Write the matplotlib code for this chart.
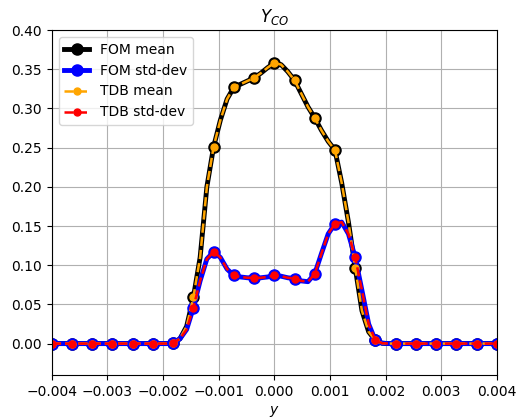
import numpy as np
import matplotlib
matplotlib.use('Agg')
import matplotlib.pyplot as plt

# dense grid: 67 points, a marker drawn on every 3rd point
y = np.linspace(-0.004, 0.004, 67)

fom_mean = [0.0]*18 + [
    0.001, 0.006, 0.022, 0.059, 0.110, 0.200, 0.251, 0.285, 0.312, 0.327,
    0.331, 0.335, 0.339, 0.345, 0.352, 0.358, 0.356, 0.347, 0.336, 0.319,
    0.302, 0.288, 0.272, 0.258, 0.247, 0.205, 0.155, 0.097, 0.042, 0.015,
    0.004, 0.0005] + [0.0]*17

fom_std = [0.0]*18 + [
    0.001, 0.006, 0.018, 0.046, 0.080, 0.108, 0.117, 0.110, 0.095, 0.087,
    0.085, 0.084, 0.084, 0.084, 0.085, 0.087, 0.086, 0.084, 0.083, 0.080,
    0.079, 0.089, 0.115, 0.140, 0.153, 0.155, 0.140, 0.110, 0.068, 0.025,
    0.004, 0.0005] + [0.0]*17

# TDB reconstruction is visually identical to the FOM
tdb_mean = list(fom_mean)
tdb_std = list(fom_std)

fig = plt.figure(figsize=(5.18, 4.18), dpi=100)
ax = fig.add_axes([0.100, 0.103, 0.859, 0.825])

ax.plot(y, fom_mean, 'k-', marker='o', lw=3.5, ms=8, markevery=3, label='FOM mean')
ax.plot(y, fom_std, 'b-', marker='o', lw=3.5, ms=8, markevery=3, label='FOM std-dev')
ax.plot(y, tdb_mean, '--', color='orange', marker='o', lw=1.8, ms=5, markevery=3, label='TDB mean')
ax.plot(y, tdb_std, 'r--', marker='o', lw=1.8, ms=5, markevery=3, label='TDB std-dev')

ax.set_xlim(-0.004, 0.004)
ax.set_ylim(-0.04, 0.40)
ax.set_xticks(np.arange(-0.004, 0.0041, 0.001))
ax.set_xlabel('$y$')
ax.set_title('$Y_{CO}$')
ax.grid(True)
ax.legend(loc='upper left', handlelength=1.8)

fig.savefig('out.png', dpi=100)
